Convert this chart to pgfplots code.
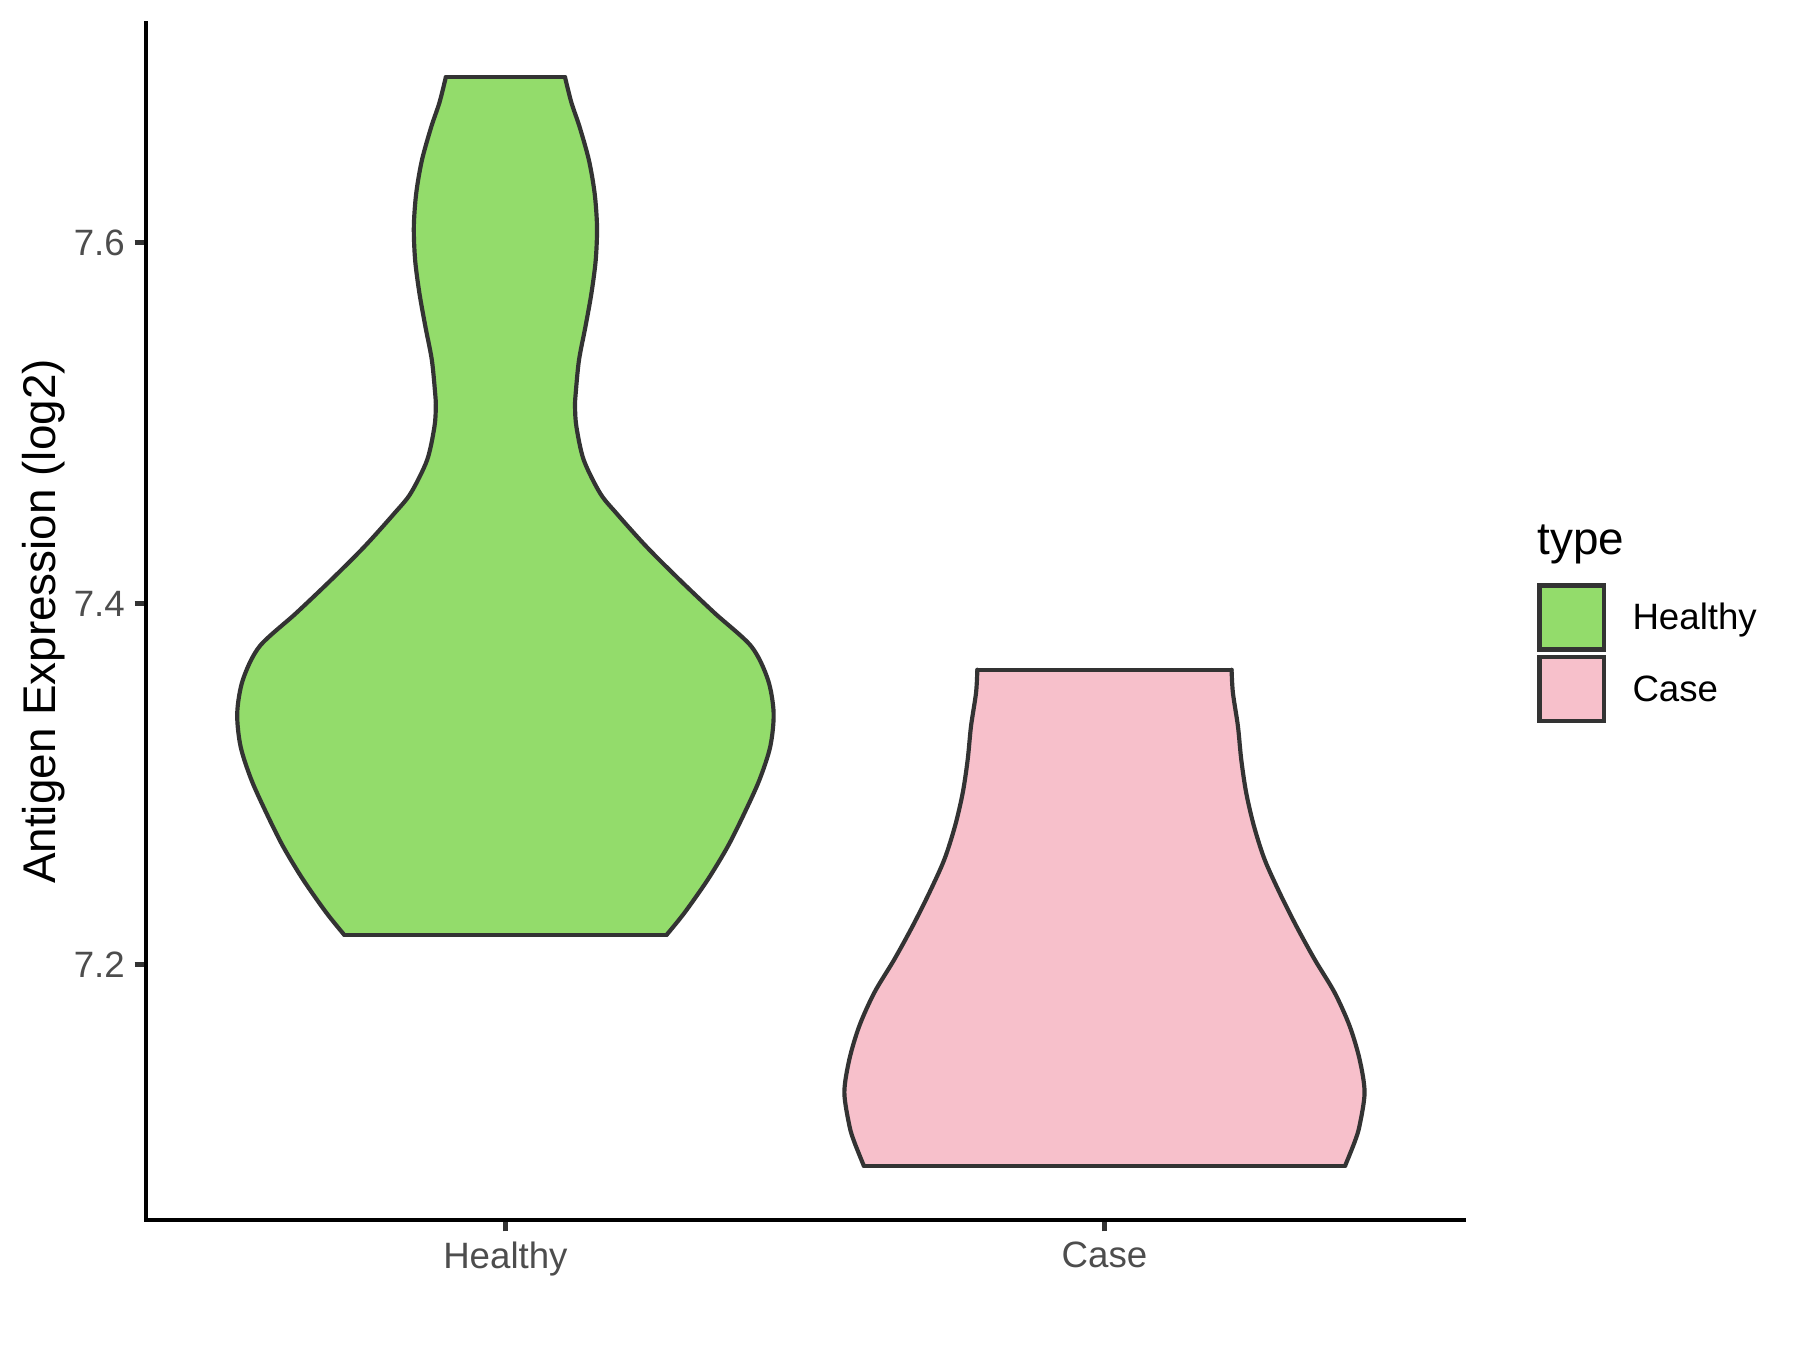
\documentclass[border=0pt]{standalone}
\usepackage{pgfplots}
\usepackage{pgfplotstable}
\pgfplotsset{compat=1.18}
\usepgfplotslibrary{fillbetween}
\usepackage{fontspec}
\setmainfont{Liberation Sans}
\definecolor{grey20}{HTML}{333333}
\definecolor{grey30}{HTML}{4D4D4D}
\definecolor{healthyc}{RGB}{147,220,107}
\definecolor{casec}{RGB}{247,192,203}
\pgfplotsset{vout/.style={draw=grey20, line width=1pt, line cap=round, line join=round}}
% Healthy violin outline, left and right sides (bottom to top)
\pgfplotstableread{
x y
0.7308 7.2166
0.7008 7.2289
0.6619 7.2473
0.6285 7.2657
0.6007 7.2842
0.5757 7.3026
0.5578 7.3210
0.5523 7.3395
0.5618 7.3579
0.5895 7.3763
0.6508 7.3948
0.7092 7.4132
0.7647 7.4316
0.8148 7.4501
0.8420 7.4612
0.8693 7.4796
0.8815 7.4980
0.8838 7.5091
0.8827 7.5165
0.8772 7.5349
0.8665 7.5533
0.8565 7.5718
0.8493 7.5902
0.8471 7.6086
0.8510 7.6271
0.8605 7.6455
0.8760 7.6639
0.8900 7.6777
0.9005 7.6916
}\HL
\pgfplotstableread{
x y
1.2692 7.2166
1.2992 7.2289
1.3381 7.2473
1.3715 7.2657
1.3993 7.2842
1.4243 7.3026
1.4422 7.3210
1.4477 7.3395
1.4382 7.3579
1.4105 7.3763
1.3492 7.3948
1.2908 7.4132
1.2353 7.4316
1.1852 7.4501
1.1580 7.4612
1.1307 7.4796
1.1185 7.4980
1.1162 7.5091
1.1173 7.5165
1.1228 7.5349
1.1335 7.5533
1.1435 7.5718
1.1507 7.5902
1.1529 7.6086
1.1490 7.6271
1.1395 7.6455
1.1240 7.6639
1.1100 7.6777
1.0995 7.6916
}\HR
% Case violin outline
\pgfplotstableread{
x y
1.5982 7.0887
1.5825 7.1017
1.5742 7.1108
1.5658 7.1293
1.5742 7.1477
1.5909 7.1662
1.6159 7.1846
1.6493 7.2030
1.6799 7.2215
1.7077 7.2399
1.7327 7.2583
1.7505 7.2768
1.7634 7.2952
1.7717 7.3137
1.7772 7.3321
1.7856 7.3506
1.7878 7.3634
}\CL
\pgfplotstableread{
x y
2.4018 7.0887
2.4175 7.1017
2.4258 7.1108
2.4342 7.1293
2.4258 7.1477
2.4091 7.1662
2.3841 7.1846
2.3507 7.2030
2.3201 7.2215
2.2923 7.2399
2.2673 7.2583
2.2495 7.2768
2.2366 7.2952
2.2283 7.3137
2.2228 7.3321
2.2144 7.3506
2.2122 7.3634
}\CR
\begin{document}
\begin{tikzpicture}
\path (0,0) rectangle (432pt,324pt);
\begin{axis}[
  at={(35.04pt,31.2pt)}, anchor=south west,
  scale only axis, width=316.3pt, height=287.3pt,
  xmin=0.4, xmax=2.6, ymin=7.0586, ymax=7.7217,
  axis lines*=left,
  axis line style={black, line width=1.07pt, line cap=rect},
  xtick={1,2}, xticklabels={Healthy,Case},
  ytick={7.2,7.4,7.6}, yticklabels={7.2,7.4,7.6},
  tick style={color=grey20, line width=1.07pt},
  tick align=outside, major tick length=2.75pt,
  /pgf/number format/assume math mode=true,
  tick label style={font=\fontsize{8.8}{10}\selectfont, color=grey30},
  yticklabel style={xshift=1.2pt},
  xticklabel style={yshift=1.1pt},
  ylabel={Antigen Expression (log2)},
  ylabel style={font=\fontsize{11}{13}\selectfont, at={(axis description cs:-0.0776,0.5)}, anchor=center},
]
\addplot[draw=none, smooth, name path=hl] table {\HL};
\addplot[draw=none, smooth, name path=hr] table {\HR};
\addplot[fill=healthyc, draw=none] fill between[of=hl and hr, reverse=true];
\addplot[vout, smooth] table {\HL};
\addplot[vout, smooth] table {\HR};
\addplot[vout] coordinates {(0.9005,7.6916) (1.0995,7.6916)};
\addplot[vout] coordinates {(0.7308,7.2166) (1.2692,7.2166)};
\addplot[draw=none, smooth, name path=cl] table {\CL};
\addplot[draw=none, smooth, name path=cr] table {\CR};
\addplot[fill=casec, draw=none] fill between[of=cl and cr, reverse=true];
\addplot[vout, smooth] table {\CL};
\addplot[vout, smooth] table {\CR};
\addplot[vout] coordinates {(1.7878,7.3634) (2.2122,7.3634)};
\addplot[vout] coordinates {(1.5982,7.0887) (2.4018,7.0887)};
\end{axis}
% legend
\node[anchor=base west, inner sep=0pt, font=\fontsize{11}{13}\selectfont] at (368.8pt,190.8pt) {type};
\draw[grey20, line width=1.07pt, fill=healthyc] (369.5pt,168.1pt) rectangle (384.9pt,183.5pt);
\draw[grey20, line width=1.07pt, fill=casec] (369.5pt,150.9pt) rectangle (384.9pt,166.3pt);
\node[anchor=base west, inner sep=0pt, font=\fontsize{8.8}{10}\selectfont] at (391.6pt,172.8pt) {Healthy};
\node[anchor=base west, inner sep=0pt, font=\fontsize{8.8}{10}\selectfont] at (391.6pt,155.6pt) {Case};
\end{tikzpicture}
\end{document}
